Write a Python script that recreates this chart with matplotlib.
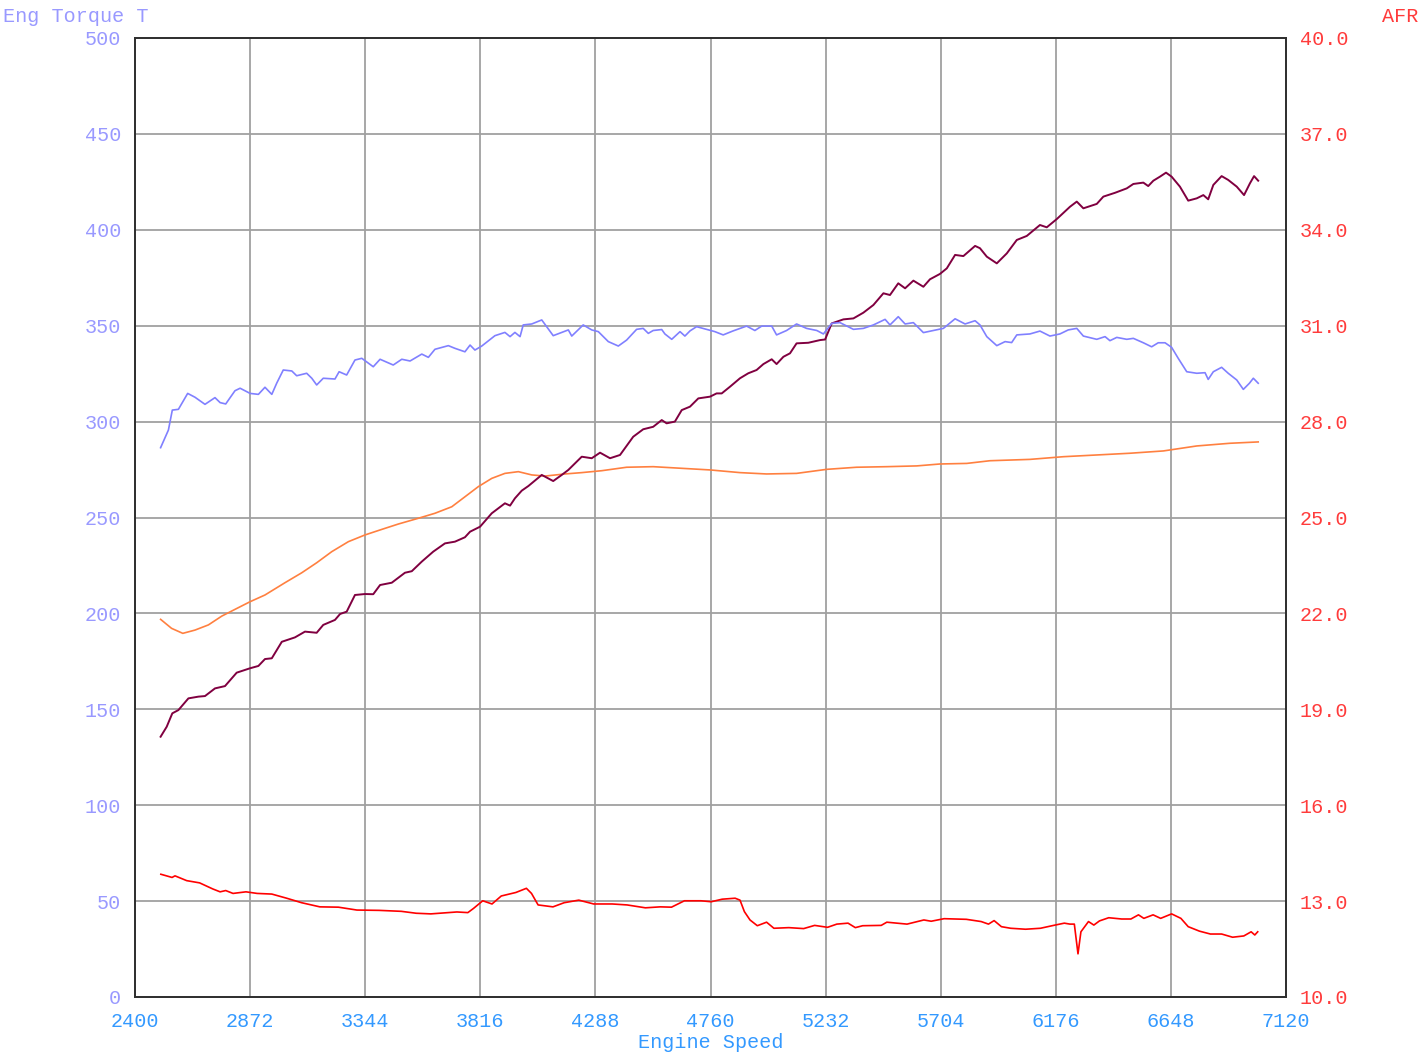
import matplotlib
matplotlib.use('Agg')
import matplotlib.pyplot as plt

plt.rcParams['font.family'] = ['Liberation Mono', 'DejaVu Sans Mono']

# engine speed axis
rpm_ticks = [2400, 2872, 3344, 3816, 4288, 4760, 5232, 5704, 6176, 6648, 7120]

# Eng Torque T (light blue)
torque_rpm = [2505, 2537, 2553, 2578, 2592, 2616, 2646, 2687, 2728, 2749, 2772, 2810, 2831,
              2872, 2906, 2933, 2961, 2981, 3008, 3043, 3063, 3104, 3125, 3145, 3172, 3220,
              3237, 3268, 3302, 3330, 3377, 3405, 3459, 3494, 3528, 3576, 3603, 3630, 3685,
              3712, 3753, 3774, 3794, 3822, 3876, 3917, 3938, 3958, 3979, 3992, 4027, 4068,
              4115, 4150, 4177, 4191, 4238, 4273, 4300, 4341, 4382, 4416, 4457, 4484, 4505,
              4525, 4560, 4573, 4601, 4635, 4655, 4676, 4703, 4744, 4778, 4812, 4853, 4881,
              4908, 4942, 4970, 5011, 5031, 5072, 5113, 5154, 5196, 5223, 5257, 5291, 5346,
              5387, 5428, 5476, 5496, 5530, 5558, 5592, 5633, 5674, 5715, 5763, 5804, 5845,
              5865, 5893, 5934, 5968, 5995, 6016, 6070, 6111, 6152, 6193, 6227, 6262, 6289,
              6344, 6378, 6398, 6426, 6467, 6494, 6535, 6569, 6596, 6624, 6651, 6678, 6713,
              6754, 6788, 6801, 6822, 6856, 6883, 6918, 6945, 6970, 6986, 7006]
torque = [286.4, 295.6, 306.0, 306.4, 309.5, 314.7, 312.7, 309.0, 312.5, 309.9, 309.2, 316.1, 317.4,
          314.7, 314.2, 317.9, 314.2, 320.0, 326.9, 326.4, 323.9, 325.2, 322.6, 319.1, 322.6, 322.2,
          326.0, 324.3, 332.1, 333.0, 328.6, 332.5, 329.5, 332.5, 331.6, 335.2, 333.5, 337.7, 339.6,
          338.2, 336.4, 339.9, 337.3, 339.4, 344.8, 346.5, 344.3, 346.5, 344.3, 350.4, 350.9, 353.0,
          344.8, 346.5, 347.8, 344.6, 350.4, 347.8, 346.9, 341.7, 339.4, 342.5, 348.1, 348.6, 346.0,
          347.5, 348.0, 345.7, 342.9, 346.9, 344.6, 347.3, 349.5, 348.1, 346.9, 345.2, 347.3, 348.6,
          349.8, 347.5, 349.8, 349.8, 345.2, 347.5, 350.9, 348.6, 347.5, 345.7, 351.2, 351.6, 348.1,
          348.6, 350.4, 353.3, 350.4, 354.7, 350.9, 351.6, 346.4, 347.5, 348.6, 353.6, 350.9, 352.6,
          350.4, 344.3, 339.6, 341.7, 341.2, 345.2, 345.7, 347.2, 344.6, 345.7, 347.8, 348.6, 344.6,
          342.9, 344.3, 342.2, 343.9, 342.9, 343.4, 341.1, 339.0, 341.1, 341.1, 338.7, 333.0, 326.0,
          325.2, 325.5, 322.0, 326.0, 328.3, 325.2, 321.7, 316.8, 320.0, 322.6, 320.0]

# dark maroon trace (left scale)
power_rpm = [2505, 2530, 2553, 2578, 2619, 2660, 2687, 2728, 2769, 2817, 2872, 2906, 2933, 2961,
             3002, 3056, 3097, 3145, 3172, 3220, 3241, 3268, 3302, 3343, 3377, 3405, 3453, 3507,
             3535, 3576, 3623, 3671, 3712, 3753, 3774, 3815, 3863, 3917, 3938, 3958, 3986, 4013,
             4068, 4115, 4150, 4177, 4232, 4273, 4307, 4348, 4389, 4443, 4484, 4525, 4560, 4580,
             4614, 4642, 4676, 4710, 4758, 4785, 4806, 4840, 4881, 4915, 4949, 4977, 5011, 5031,
             5059, 5086, 5113, 5161, 5209, 5230, 5257, 5305, 5346, 5387, 5428, 5469, 5496, 5530,
             5558, 5592, 5633, 5660, 5701, 5729, 5763, 5797, 5845, 5865, 5893, 5934, 5975, 6016,
             6057, 6111, 6139, 6180, 6234, 6262, 6289, 6344, 6371, 6419, 6467, 6494, 6535, 6555,
             6576, 6603, 6628, 6651, 6685, 6719, 6754, 6781, 6801, 6822, 6856, 6883, 6918, 6948,
             6972, 6989, 7006]
power = [135.7, 140.9, 147.9, 149.6, 155.7, 156.6, 156.9, 160.9, 162.1, 169.1, 171.4, 172.6, 176.2, 176.6,
         185.2, 187.5, 190.5, 189.9, 194.0, 196.6, 199.7, 200.9, 209.6, 210.1, 210.0, 214.8, 216.0, 221.2,
         222.0, 227.0, 232.2, 236.5, 237.4, 239.7, 242.6, 245.2, 252.2, 257.4, 256.2, 260.0, 264.0, 266.4,
         272.2, 269.0, 272.2, 274.8, 281.7, 280.9, 283.8, 280.9, 282.6, 292.1, 296.0, 297.3, 300.8, 299.1,
         300.0, 306.0, 307.8, 312.1, 313.0, 314.7, 314.7, 318.2, 322.6, 325.2, 326.9, 330.0, 332.5, 330.0,
         333.8, 335.6, 340.8, 341.1, 342.5, 342.8, 351.2, 353.3, 353.8, 356.8, 360.8, 366.9, 366.0, 372.1,
         369.5, 373.5, 370.3, 374.2, 377.0, 379.9, 386.9, 386.3, 391.6, 390.4, 386.0, 382.5, 387.7, 394.7,
         396.8, 402.5, 401.3, 405.6, 412.0, 414.7, 411.2, 413.5, 417.3, 419.3, 421.6, 423.9, 424.6, 422.8,
         425.6, 427.7, 429.8, 427.7, 422.5, 415.2, 416.4, 418.1, 415.9, 423.4, 428.0, 426.0, 422.5, 418.1,
         424.2, 428.0, 425.6]

# orange trace (left scale)
orange_rpm = [2505, 2550, 2596, 2646, 2701, 2756, 2810, 2872, 2933, 3015, 3084, 3145, 3207, 3275,
              3343, 3412, 3480, 3562, 3630, 3699, 3753, 3808, 3863, 3917, 3972, 4027, 4081, 4163,
              4232, 4314, 4416, 4525, 4648, 4758, 4881, 4990, 5113, 5236, 5359, 5483, 5606, 5701,
              5811, 5906, 6070, 6207, 6344, 6480, 6617, 6754, 6890, 7006]
orange = [196.9, 192.2, 189.6, 191.3, 194.0, 198.6, 202.1, 206.1, 209.6, 216.0, 221.2, 226.4, 232.2, 237.4,
          240.9, 243.8, 246.6, 249.6, 252.2, 255.6, 260.8, 266.1, 270.4, 273.0, 273.9, 272.2, 271.6, 272.7,
          273.4, 274.4, 276.2, 276.5, 275.6, 274.8, 273.4, 272.7, 273.0, 275.1, 276.2, 276.5, 276.9, 277.9,
          278.2, 279.6, 280.3, 281.7, 282.6, 283.5, 284.7, 287.3, 288.7, 289.4]

# AFR (right scale)
afr_rpm = [2506, 2552, 2564, 2612, 2665, 2719, 2749, 2772, 2802, 2855, 2901, 2961, 3022, 3083,
           3158, 3234, 3310, 3401, 3492, 3553, 3613, 3720, 3765, 3788, 3826, 3864, 3902, 3962,
           4005, 4026, 4053, 4114, 4160, 4220, 4281, 4357, 4418, 4493, 4554, 4600, 4653, 4721,
           4763, 4808, 4861, 4881, 4899, 4922, 4952, 4990, 5020, 5081, 5142, 5187, 5240, 5278,
           5324, 5354, 5384, 5460, 5483, 5566, 5635, 5665, 5718, 5809, 5870, 5900, 5923, 5953,
           5991, 6052, 6113, 6173, 6211, 6234, 6252, 6267, 6279, 6310, 6332, 6355, 6393, 6446,
           6484, 6515, 6537, 6575, 6606, 6651, 6689, 6719, 6765, 6810, 6856, 6901, 6947, 6977,
           6992, 7004]
afr = [13.84, 13.74, 13.79, 13.64, 13.57, 13.38, 13.29, 13.33, 13.24, 13.29, 13.24, 13.22, 13.09, 12.95,
       12.82, 12.81, 12.72, 12.71, 12.68, 12.62, 12.60, 12.66, 12.64, 12.77, 13.01, 12.91, 13.16, 13.27,
       13.40, 13.24, 12.88, 12.82, 12.95, 13.03, 12.91, 12.91, 12.88, 12.79, 12.82, 12.81, 13.01, 13.01,
       12.98, 13.06, 13.09, 13.03, 12.67, 12.41, 12.23, 12.34, 12.15, 12.17, 12.14, 12.24, 12.18, 12.28,
       12.31, 12.17, 12.23, 12.24, 12.34, 12.28, 12.41, 12.37, 12.45, 12.43, 12.36, 12.28, 12.39, 12.20,
       12.15, 12.12, 12.15, 12.25, 12.31, 12.28, 12.28, 11.35, 12.04, 12.36, 12.25, 12.38, 12.48, 12.44,
       12.44, 12.57, 12.46, 12.57, 12.46, 12.60, 12.46, 12.20, 12.06, 11.97, 11.97, 11.87, 11.91, 12.04,
       11.94, 12.04]

left_ticks = list(range(0, 501, 50))
right_ticks = [10.0, 13.0, 16.0, 19.0, 22.0, 25.0, 28.0, 31.0, 34.0, 37.0, 40.0]

fig = plt.figure(figsize=(14.26, 10.55), dpi=100)
ax = fig.add_axes([135 / 1426, 1 - 997 / 1055, 1151 / 1426, 959 / 1055])
ax2 = ax.twinx()

ax.plot(orange_rpm, orange, color='#ff8040', lw=1.2)
ax.plot(power_rpm, power, color='#800040', lw=1.4)
ax.plot(torque_rpm, torque, color='#8080ff', lw=1.2)
ax2.plot(afr_rpm, afr, color='#ff0000', lw=1.2)

ax.set_xlim(2400, 7120)
ax.set_ylim(0, 500)
ax2.set_ylim(10, 40)
ax.set_xticks(rpm_ticks)
ax.set_yticks(left_ticks)
ax2.set_yticks(right_ticks)
ax2.set_yticklabels(['%.1f' % v for v in right_ticks])

ax.grid(True, color='#a0a0a0', lw=1.3)
ax.tick_params(axis='x', length=0, pad=11, labelsize=14.5, labelcolor='#3399ff')
ax.tick_params(axis='y', length=0, pad=10, labelsize=14.5, labelcolor='#9999ff')
ax2.tick_params(axis='y', length=0, pad=10, labelsize=14.5, labelcolor='#ff3b3b')

for a in (ax, ax2):
    for s in a.spines.values():
        s.set_color('#303030')
        s.set_linewidth(1.3)

ax.set_xlabel('Engine Speed', color='#3399ff', fontsize=14.5, labelpad=1)
fig.text(3 / 1426, 1 - 16 / 1055, 'Eng Torque T', color='#9999ff', fontsize=14.5, ha='left', va='center')
fig.text(1418 / 1426, 1 - 16 / 1055, 'AFR', color='#ff3b3b', fontsize=14.5, ha='right', va='center')

fig.savefig('out.png', dpi=100, facecolor='white')
